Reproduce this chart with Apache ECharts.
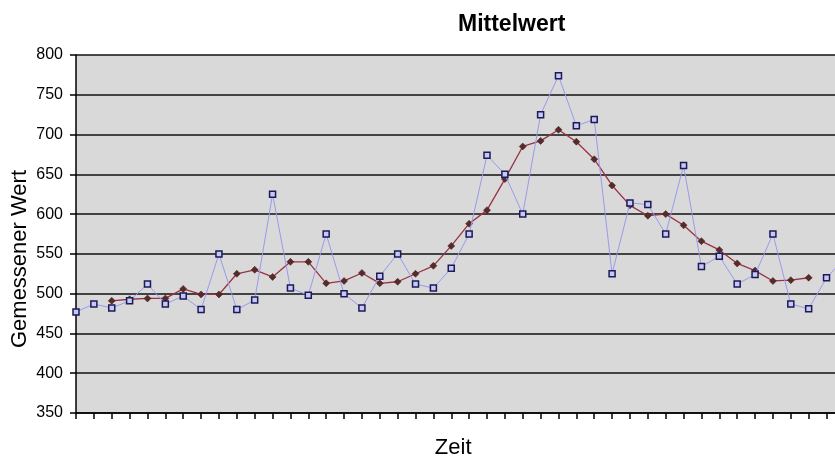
<!DOCTYPE html>
<html>
<head>
<meta charset="utf-8">
<script src="https://cdn.jsdelivr.net/npm/echarts@6/dist/echarts.min.js"></script>
<style>
html,body{margin:0;padding:0;background:#fff;}
#chart{width:835px;height:459px;}
</style>
</head>
<body>
<div id="chart"></div>
<script>
var categories = ['1','2','3','4','5','6','7','8','9','10','11','12','13','14','15','16','17','18','19','20','21','22','23','24','25','26','27','28','29','30','31','32','33','34','35','36','37','38','39','40','41','42','43','44'];
var messwerte = [477,487,482,491,512,487,497,480,550,480,492,625,507,498,575,500,482,522,550,512,507,532,575,674,650,600,725,774,711,719,525,614,612,575,661,534,547,512,524,575,487,481,520,544];
var mittelwert = [null,null,491,493,494,494,506,499,499,525,530,521,540,540,513,516,526,513,515,525,535,560,588,605,644,685,692,706,691,669,636,611,598,600,586,566,555,538,529,516,517,520,null,null];
var yTicks = {min:350, max:800, interval:50};
var yName = 'Gemessener Wert';

var chart = echarts.init(document.getElementById('chart'), null, {renderer:'canvas'});
chart.setOption({
  animation:false,
  backgroundColor:'#ffffff',
  title:{
    text:'Mittelwert', left:453, top:8,
    textStyle:{fontFamily:'Liberation Sans, Arial, sans-serif', fontWeight:'bold', fontSize:23, color:'#000'}
  },
  graphic:[{
    type:'text', x:20, y:259, rotation:Math.PI/2,
    style:{text:yName, fill:'#000', font:'22px "Liberation Sans", Arial, sans-serif', textAlign:'center', textVerticalAlign:'middle'}
  }],
  grid:{left:76, top:55, bottom:46, right:-9.4, show:true, backgroundColor:'#d9d9d9', borderWidth:0, containLabel:false, outerBoundsMode:'none'},
  xAxis:{
    type:'category', data:categories, boundaryGap:false,
    name:'Zeit', nameLocation:'middle', nameGap:24,
    nameTextStyle:{fontFamily:'Liberation Sans, Arial, sans-serif', fontSize:22, color:'#000', padding:[0,14,0,0]},
    axisLine:{show:true, onZero:false, lineStyle:{color:'#000', width:1.5}},
    axisTick:{show:true, alignWithLabel:true, length:6, lineStyle:{color:'#000', width:1.5}, interval:0},
    axisLabel:{show:false},
    splitLine:{show:false}
  },
  yAxis:{
    type:'value', min:yTicks.min, max:yTicks.max, interval:yTicks.interval,
    axisLine:{show:true, lineStyle:{color:'#000', width:1.5}},
    axisTick:{show:true, length:6, lineStyle:{color:'#000', width:1.5}},
    axisLabel:{margin:13, fontFamily:'Liberation Sans, Arial, sans-serif', fontSize:16, color:'#000'},
    splitLine:{show:true, lineStyle:{color:'#111', width:1.6}}
  },
  series:[
    {
      name:'Mittelwert', type:'line', data:mittelwert, connectNulls:false,
      symbol:'diamond', symbolSize:7,
      lineStyle:{color:'#993344', width:1.3},
      itemStyle:{color:'#5a2a2a', borderColor:'#3a1a1a', borderWidth:0.5},
      z:3
    },
    {
      name:'Messwert', type:'line', data:messwerte,
      symbol:'rect', symbolSize:6,
      lineStyle:{color:'#9999ee', width:1},
      itemStyle:{color:'#c8c8f0', borderColor:'#1a1a5a', borderWidth:1.5},
      z:4
    }
  ]
});
</script>
</body>
</html>
